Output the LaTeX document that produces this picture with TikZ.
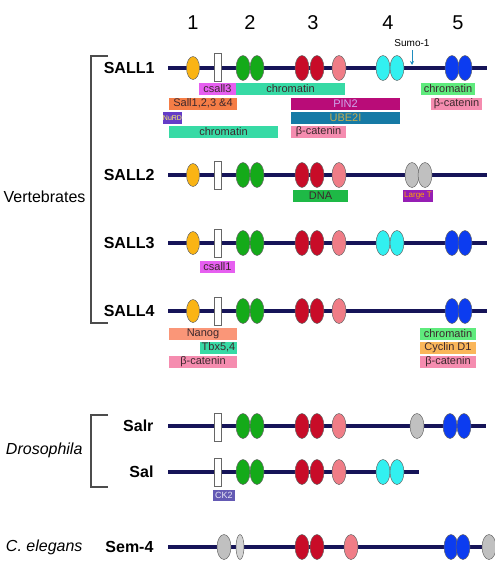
\documentclass[tikz,border=0pt]{standalone}
\usepackage{fontspec}
\setmainfont{Liberation Sans}
\usetikzlibrary{shapes.geometric, arrows.meta}
\definecolor{mynavy}{RGB}{22,20,88}
\definecolor{zorange}{RGB}{250,180,20}
\definecolor{zgreen}{RGB}{20,170,25}
\definecolor{zred}{RGB}{200,12,40}
\definecolor{zpink}{RGB}{240,125,135}
\definecolor{zcyan}{RGB}{50,240,240}
\definecolor{zblue}{RGB}{12,60,240}
\definecolor{zgray}{RGB}{192,192,192}
\definecolor{tmag}{RGB}{230,95,240}
\definecolor{tteal}{RGB}{55,218,165}
\definecolor{tgreen}{RGB}{95,235,125}
\definecolor{torange}{RGB}{245,125,70}
\definecolor{tpin}{RGB}{185,12,120}
\definecolor{tpink}{RGB}{245,140,175}
\definecolor{tnurd}{RGB}{100,60,200}
\definecolor{tube}{RGB}{22,122,165}
\definecolor{tdna}{RGB}{30,185,70}
\definecolor{tlarge}{RGB}{150,30,180}
\definecolor{tnanog}{RGB}{250,150,120}
\definecolor{tcyclin}{RGB}{250,182,90}
\definecolor{tck}{RGB}{100,90,180}
\definecolor{mytxt}{RGB}{60,40,45}
\definecolor{sumoblue}{RGB}{30,140,190}
\tikzset{
  znf/.style={ellipse, draw=black!60, line width=0.5pt,
    minimum width=14pt, minimum height=25pt, inner sep=0pt},
  gbox/.style={rectangle, draw=black!60, fill=white, line width=0.5pt,
    minimum width=7pt, minimum height=28pt, inner sep=0pt},
  tag/.style={rectangle, inner sep=0pt, minimum height=12pt,
    font=\fontsize{11}{12}\selectfont, text=mytxt},
  gene/.style={anchor=east, font=\fontsize{16}{18}\selectfont\bfseries},
  taxon/.style={anchor=east, font=\fontsize{16}{18}\selectfont},
  backbone/.style={line width=4pt, color=mynavy},
  bracket/.style={line width=1.2pt, color=black!70}
}
\begin{document}
\begin{tikzpicture}[x=1pt, y=-1pt]
  \useasboundingbox (0,0) rectangle (495,573);
  % Cluster numbers
  \foreach \n/\x in {1/193, 2/250, 3/313, 4/388, 5/458}
    \node[font=\fontsize{20}{22}\selectfont] (num\n) at (\x,23) {\n};

  % Backbones
  \foreach \p/\y/\e in {s1/68/487, s2/175/487, s3/243/487, s4/311/487, salr/426/486, sal/472/419, sem/547/495} {
    \coordinate (\p-a) at (168,\y);
    \coordinate (\p-b) at (\e,\y);
    \draw[backbone] (\p-a) -- (\p-b);
  }

  % Gene names
  \node[gene] (sall1) at (158,68) {SALL1};
  \node[gene] (sall2) at (158,175) {SALL2};
  \node[gene] (sall3) at (158,243) {SALL3};
  \node[gene] (sall4) at (158,311) {SALL4};
  \node[gene] (salr) at (157,426) {Salr};
  \node[gene] (sal) at (157,472) {Sal};
  \node[gene] (sem) at (157,547) {Sem-4};

  % Taxa
  \draw[bracket] (108,56) -- (91,56) -- (91,323) -- (108,323);
  \node[taxon] (vert) at (89,197) {Vertebrates};
  \draw[bracket] (108,415) -- (91,415) -- (91,487) -- (108,487);
  \node[taxon, font=\fontsize{16}{18}\selectfont\itshape] (dros) at (86,450) {Drosophila};
  \node[taxon, font=\fontsize{16}{18}\selectfont\itshape] (eleg) at (86,547) {C. elegans};

  % SALL1
  \node[znf, fill=zorange, minimum width=13pt, minimum height=23pt] (s1-o) at (193,68) {};
  \node[gbox] (s1-r) at (218,67) {};
  \foreach \x/\c in {243/zgreen, 257/zgreen, 302/zred, 317/zred, 339/zpink, 383/zcyan, 397/zcyan, 452/zblue, 465/zblue}
    \node[znf, fill=\c] (s1-\x) at (\x,68) {};
  \node[font=\fontsize{10}{11}\selectfont] (sumo) at (412,43) {Sumo-1};
  \coordinate (sumo-tip) at (412,65);
  \draw[-{Stealth[length=4pt, width=4pt]}, thick, sumoblue] (sumo.south) -- (sumo-tip);
  \node[tag, fill=tmag, minimum width=37pt] (b1) at (217.5,89) {csall3};
  \node[tag, fill=tteal, minimum width=109pt] (b2) at (290.5,89) {chromatin};
  \node[tag, fill=tgreen, minimum width=54pt] (b3) at (448,89) {chromatin};
  \node[tag, fill=torange, minimum width=68pt] (b4) at (203,103.5) {Sall1,2,3 \&4};
  \node[tag, fill=tpin, text=tmag!45!tnurd!50!white, minimum width=109pt] (b5) at (345.5,103.5) {PIN2};
  \node[tag, fill=tpink, minimum width=51pt] (b6) at (456.5,103.5) {β-catenin};
  \node[tag, fill=tnurd, text=yellow!60!white, minimum width=19pt, font=\fontsize{7}{8}\selectfont] (b7) at (172.5,118) {NuRD};
  \node[tag, fill=tube, text={rgb,255:red,195;green,172;blue,80}, minimum width=109pt] (b8) at (345.5,118) {UBE2I};
  \node[tag, fill=tteal, minimum width=109pt] (b9) at (223.5,132) {chromatin};
  \node[tag, fill=tpink, minimum width=55pt] (b10) at (318.5,132) {β-catenin};

  % SALL2
  \node[znf, fill=zorange, minimum width=13pt, minimum height=23pt] (s2-o) at (193,175) {};
  \node[gbox] (s2-r) at (218,175) {};
  \foreach \x/\c in {243/zgreen, 257/zgreen, 302/zred, 317/zred, 339/zpink, 412/zgray, 425/zgray}
    \node[znf, fill=\c] (s2-\x) at (\x,175) {};
  \node[tag, fill=tdna, minimum width=55pt] (b11) at (320.5,196) {DNA};
  \node[tag, fill=tlarge, text=orange!70!yellow, minimum width=30pt, font=\fontsize{8}{9}\selectfont] (b12) at (418,196) {Large T};

  % SALL3
  \node[znf, fill=zorange, minimum width=13pt, minimum height=23pt] (s3-o) at (193,243) {};
  \node[gbox] (s3-r) at (218,243) {};
  \foreach \x/\c in {243/zgreen, 257/zgreen, 302/zred, 317/zred, 339/zpink, 383/zcyan, 397/zcyan, 452/zblue, 465/zblue}
    \node[znf, fill=\c] (s3-\x) at (\x,243) {};
  \node[tag, fill=tmag, minimum width=35pt] (b13) at (217.5,267) {csall1};

  % SALL4
  \node[znf, fill=zorange, minimum width=13pt, minimum height=23pt] (s4-o) at (193,311) {};
  \node[gbox] (s4-r) at (218,311) {};
  \foreach \x/\c in {243/zgreen, 257/zgreen, 302/zred, 317/zred, 339/zpink, 452/zblue, 465/zblue}
    \node[znf, fill=\c] (s4-\x) at (\x,311) {};
  \node[tag, fill=tnanog, minimum width=68pt] (b14) at (203,333.5) {Nanog};
  \node[tag, fill=tteal, minimum width=37pt] (b15) at (218.5,347.5) {Tbx5,4};
  \node[tag, fill=tpink, minimum width=68pt] (b16) at (203,361.5) {β-catenin};
  \node[tag, fill=tgreen, minimum width=56pt] (b17) at (448,333.5) {chromatin};
  \node[tag, fill=tcyclin, minimum width=56pt] (b18) at (448,347.5) {Cyclin D1};
  \node[tag, fill=tpink, minimum width=56pt] (b19) at (448,361.5) {β-catenin};

  % Salr
  \node[gbox] (salr-r) at (218,427) {};
  \foreach \x/\c in {243/zgreen, 257/zgreen, 302/zred, 317/zred, 339/zpink, 417/zgray, 450/zblue, 464/zblue}
    \node[znf, fill=\c] (salr-\x) at (\x,426) {};

  % Sal
  \node[gbox] (sal-r) at (218,472) {};
  \foreach \x/\c in {243/zgreen, 257/zgreen, 302/zred, 317/zred, 339/zpink, 383/zcyan, 397/zcyan}
    \node[znf, fill=\c] (sal-\x) at (\x,472) {};
  \node[tag, fill=tck, text=white!85!tck, minimum width=22pt, minimum height=11pt, font=\fontsize{9}{10}\selectfont] (b20) at (224,495) {CK2};

  % Sem-4
  \node[znf, fill=zgray] (sem-g1) at (224,547) {};
  \node[znf, fill=zgray!70!white, minimum width=8pt] (sem-g2) at (240,547) {};
  \foreach \x/\c in {302/zred, 317/zred, 351/zpink, 451/zblue, 463/zblue, 489/zgray}
    \node[znf, fill=\c] (sem-\x) at (\x,547) {};
\end{tikzpicture}
\end{document}
